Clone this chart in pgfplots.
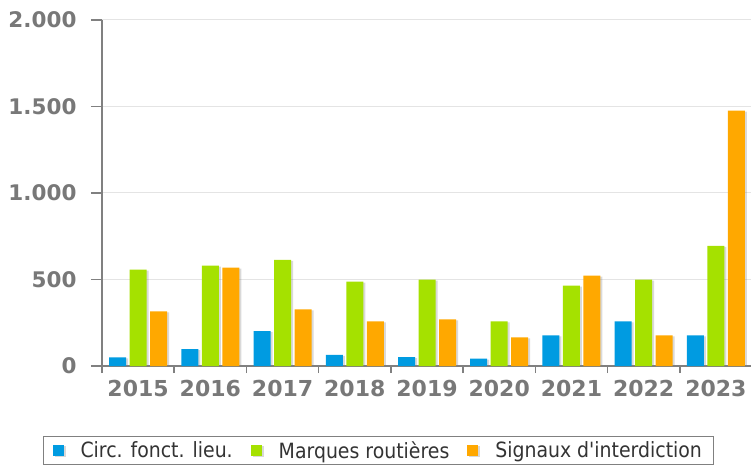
\documentclass[border=0pt]{standalone}
\usepackage{pgfplots}
\pgfplotsset{compat=1.18}
\usepackage{fontspec}
\setmainfont{DejaVu Sans}
\newfontfamily\condfont{DejaVu Sans Condensed}
\usetikzlibrary{shadows}
\definecolor{cblue}{RGB}{0,155,225}
\definecolor{cgreen}{RGB}{165,225,0}
\definecolor{corange}{RGB}{255,168,0}
\definecolor{axgray}{RGB}{128,128,128}
\definecolor{labgray}{RGB}{120,120,120}
\definecolor{gridgray}{RGB}{228,228,228}
\begin{document}
\begin{tikzpicture}
\begin{axis}[
  at={(0pt,0pt)}, anchor=south west,
  scale only axis, width=650pt, height=346pt,
  xmin=-0.5, xmax=8.5, ymin=0, ymax=2000,
  ybar=3.5pt, bar width=17pt,
  axis x line*=bottom, axis y line*=left,
  axis line style={axgray, line width=1.5pt},
  ytick={0,500,1000,1500,2000},
  ymajorgrids, grid style={gridgray, line width=1pt},
  xtick={0,...,8},
  xticklabels={2015,2016,2017,2018,2019,2020,2021,2022,2023},
  minor xtick={-0.5,0.5,...,8.5},
  tick align=outside,
  major tick length=11pt, minor tick length=7pt,
  every major x tick/.style={draw=none},
  every minor x tick/.style={axgray, line width=1.5pt},
  every major y tick/.style={axgray, line width=1.5pt},
  /pgf/number format/assume math mode=true,
  /pgf/number format/1000 sep={.},
  tick label style={font=\fontsize{21.5}{24}\selectfont\bfseries, text=labgray},
  y tick label style={xshift=-11pt},
  x tick label style={font=\fontsize{22}{24}\selectfont\bfseries},
  legend style={at={(0.425,-0.2023)}, anchor=north, legend columns=3,
    draw=axgray, line width=0.8pt, font=\condfont\fontsize{21}{25}\selectfont, text=black!80,
    inner xsep=9pt, inner ysep=3pt,
    /tikz/every odd column/.append style={column sep=15pt},
    /tikz/every even column/.append style={column sep=16pt}},
  legend image code/.code={\fill[#1, draw=none] (0pt,-5.5pt) rectangle (11pt,5.5pt);},
  every axis plot/.append style={draw=none, drop shadow={shadow xshift=2pt, shadow yshift=-1pt, opacity=0.3}},
]
\addplot[fill=cblue] coordinates {(0,50) (1,98) (2,202) (3,64) (4,52) (5,42) (6,177) (7,258) (8,177)};
\addplot[fill=cgreen] coordinates {(0,557) (1,580) (2,614) (3,487) (4,499) (5,258) (6,464) (7,499) (8,695)};
\addplot[fill=corange] coordinates {(0,316) (1,568) (2,328) (3,258) (4,270) (5,166) (6,522) (7,177) (8,1476)};
\legend{Circ. fonct. lieu., Marques routières, Signaux d'interdiction}
\end{axis}
\pgfresetboundingbox
\path (-102pt,-99pt) rectangle (649pt,366pt);
\end{tikzpicture}
\end{document}
